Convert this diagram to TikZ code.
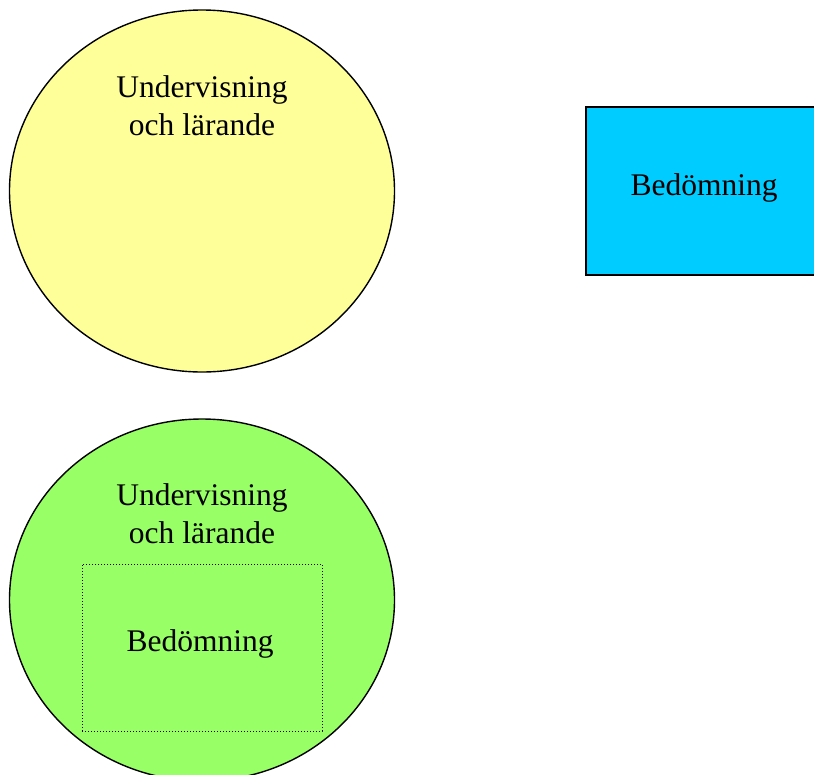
\documentclass[tikz,border=0pt]{standalone}
\usepackage{fontspec}
\setmainfont{Liberation Serif}
\usetikzlibrary{shapes.geometric}
\definecolor{lightyellow}{HTML}{FFFF99}
\definecolor{lightgreen}{HTML}{99FF66}
\definecolor{skyblue}{HTML}{00CCFF}
\begin{document}
\begin{tikzpicture}[x=1pt,y=-1pt,
  blob/.style={ellipse,draw=black,line width=1.4pt,minimum width=385pt,minimum height=362pt,inner sep=0pt},
  lbl/.style={font=\fontsize{31.5}{37.5}\selectfont,align=center,inner sep=0pt},
  boxed/.style={draw=black,line width=1.6pt,fill=skyblue,minimum width=236pt,minimum height=168pt,inner sep=0pt},
  dotbox/.style={draw=black,line width=1pt,dotted,minimum width=240pt,minimum height=167pt,inner sep=0pt}]
\path[use as bounding box] (0,0) rectangle (814,774);
\clip (0,0) rectangle (814,774);
\fill[white] (0,0) rectangle (814,774);
% top yellow
\node[blob,fill=lightyellow] (ul) at (202,191) {};
\node[lbl,anchor=base] (ultext) at (202,135) {Undervisning\\och lärande};
% blue box
\node[boxed] (bed) at (704,191) {};
\node[lbl,anchor=base] (bedtext) at (704,195) {Bedömning};
% green
\node[blob,fill=lightgreen] (ul2) at (202,600) {};
\node[lbl,anchor=base] (ul2text) at (202,543) {Undervisning\\och lärande};
\node[dotbox] (bed2) at (202,647.5) {};
\node[lbl,anchor=base] (bed2text) at (200,651) {Bedömning};
\end{tikzpicture}
\end{document}
